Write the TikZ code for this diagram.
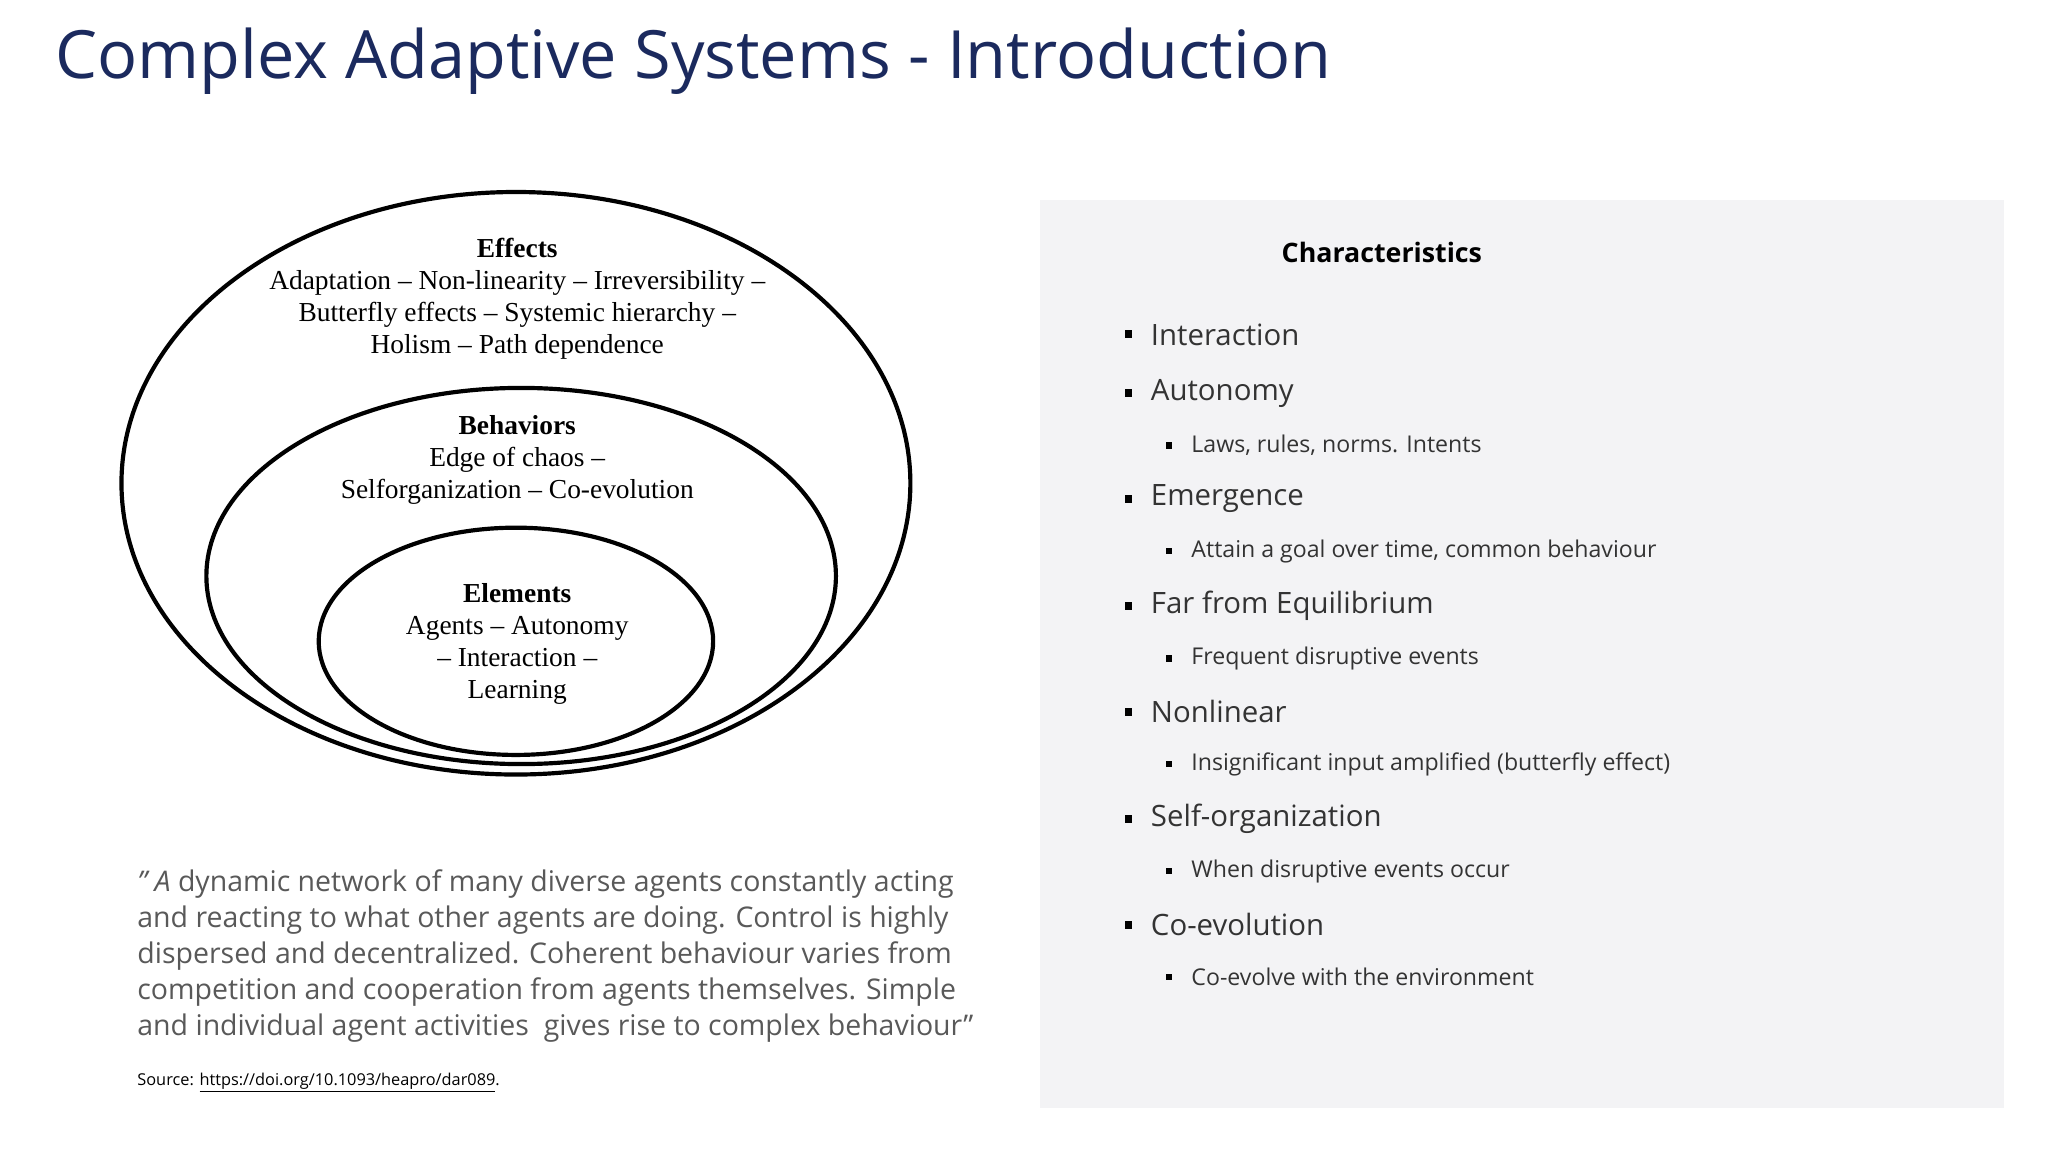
\documentclass[tikz,border=0pt]{standalone}
\usepackage{fontspec}
\setmainfont{Open Sans}
\newfontfamily\timesf[Ligatures=TeX]{Liberation Serif}
\definecolor{navy}{HTML}{1B2A5E}
\definecolor{panel}{HTML}{F3F3F5}
\definecolor{quote}{HTML}{595959}
\definecolor{txt}{HTML}{333333}
\begin{document}
\begin{tikzpicture}[x=1pt,y=-1pt,
  ring/.style={draw=black,line width=3.2pt},
  etext/.style={font=\timesf\fontsize{21}{24.5}\selectfont,align=center},
  lvl/.style={anchor=west,font=\fontsize{22.5}{27}\selectfont,text=txt,inner sep=0},
  sub/.style={anchor=west,font=\fontsize{17.7}{21}\selectfont,text=txt,inner sep=0},
  bul/.style={fill=black,minimum size=6pt,inner sep=0},
  sbul/.style={fill=black,minimum size=5pt,inner sep=0}]
\useasboundingbox (0,0) rectangle (1568,882);
\fill[white] (0,0) rectangle (1568,882);
\node[anchor=west,inner sep=0,font=\fontsize{51}{60}\selectfont,text=navy] (title) at (42,47) {Complex Adaptive Systems - Introduction};
% ellipses
\draw[ring] (395,370) ellipse [x radius=302,y radius=223];
\draw[ring] (399,441) ellipse [x radius=241,y radius=144];
\draw[ring] (395,491) ellipse [x radius=151,y radius=87];
\node[etext] (eff) at (396,229) {\textbf{Effects}\\Adaptation -- Non-linearity -- Irreversibility --\\Butterfly effects -- Systemic hierarchy --\\Holism -- Path dependence};
\node[etext] (beh) at (396,352) {\textbf{Behaviors}\\Edge of chaos --\\Selforganization -- Co-evolution};
\node[etext] (ele) at (396,493) {\textbf{Elements}\\Agents -- Autonomy\\-- Interaction --\\Learning};
% quote
\node[anchor=north west,align=left,inner sep=0,text=quote,font=\fontsize{21.8}{27.5}\selectfont] (q) at (105,666)
{\textit{" A} dynamic network of many diverse agents constantly acting\\
and reacting to what other agents are doing. Control is highly\\
dispersed and decentralized. Coherent behaviour varies from\\
competition and cooperation from agents themselves. Simple\\
and individual agent activities\ \ gives rise to complex behaviour"};
\node[anchor=west,inner sep=0,font=\fontsize{12.5}{15}\selectfont] (src) at (105,829) {Source: \underline{https://doi.org/10.1093/heapro/dar089}.};
% panel
\fill[panel] (796,153) rectangle (1534,848);
\node[font=\bfseries\fontsize{20.5}{25}\selectfont] (ch) at (1058,193) {Characteristics};
\foreach \t/\y [count=\i] in {Interaction/256,Autonomy/301,Emergence/382,Far from Equilibrium/464,Nonlinear/545,Self-organization/627,Co-evolution/708}{
  \node[bul] (b\i) at (864,\y) {};
  \node[lvl] (l\i) at (881,\y) {\t};
}
\foreach \t/\y [count=\i] in {{Laws, rules, norms. Intents}/341,{Attain a goal over time, common behaviour}/422,{Frequent disruptive events}/504,{Insignificant input amplified (butterfly effect)}/585,{When disruptive events occur}/667,{Co-evolve with the environment}/748}{
  \node[sbul] (sb\i) at (895,\y) {};
  \node[sub] (s\i) at (912,\y) {\t};
}
\end{tikzpicture}
\end{document}
